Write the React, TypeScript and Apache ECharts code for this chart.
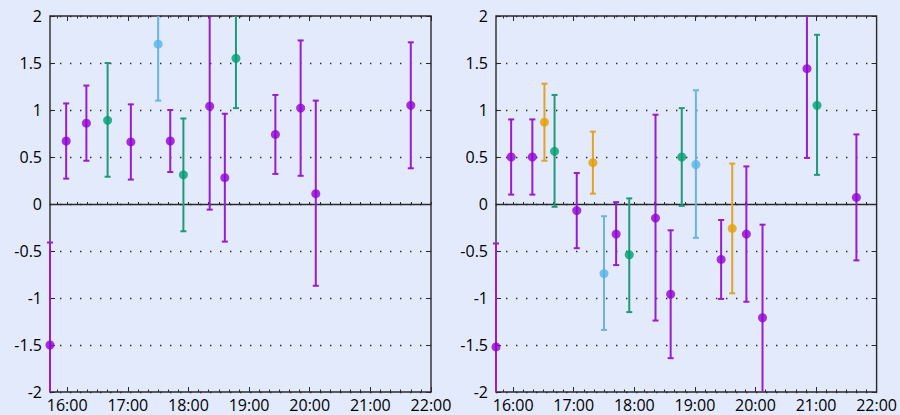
import React, { useEffect, useRef } from "react";
import * as echarts from "echarts";

// ---- data ----
const groupColors = ["#9400d3", "#009e73", "#56b4e9", "#e69f00"];
const barColors = ["#9a1ccc", "#1f9a78", "#6bb4e0", "#e2a426"];

const hourLabels = ["16:00", "17:00", "18:00", "19:00", "20:00", "21:00", "22:00"];
const xStart = "15:43";
const xEnd = "22:00";
const yTicks = [-2, -1.5, -1, -0.5, 0, 0.5, 1, 1.5, 2];

const leftTimes = ["15:43", "15:59", "16:19", "16:40", "17:03", "17:30", "17:42", "17:55", "18:21", "18:36", "18:47", "19:26", "19:51", "20:06", "21:40"];
const leftValues = [-1.5, 0.67, 0.86, 0.89, 0.66, 1.7, 0.67, 0.31, 1.04, 0.28, 1.55, 0.74, 1.02, 0.11, 1.05];
const leftLow = [-2.59, 0.27, 0.46, 0.29, 0.26, 1.1, 0.34, -0.29, -0.06, -0.4, 1.02, 0.32, 0.3, -0.87, 0.38];
const leftHigh = [-0.41, 1.07, 1.26, 1.5, 1.06, 2.3, 1.0, 0.91, 2.14, 0.96, 2.08, 1.16, 1.74, 1.1, 1.72];
const leftGroups = [0, 0, 0, 1, 0, 2, 0, 1, 0, 0, 1, 0, 0, 0, 0];

const rightTimes = ["15:43", "15:58", "16:19", "16:31", "16:41", "17:03", "17:19", "17:30", "17:42", "17:55", "18:21", "18:36", "18:47", "19:01", "19:26", "19:37", "19:51", "20:07", "20:51", "21:01", "21:40"];
const rightValues = [-1.52, 0.5, 0.5, 0.87, 0.56, -0.07, 0.44, -0.74, -0.32, -0.54, -0.15, -0.96, 0.5, 0.42, -0.59, -0.26, -0.32, -1.21, 1.44, 1.05, 0.07];
const rightLow = [-2.62, 0.1, 0.1, 0.46, -0.03, -0.47, 0.11, -1.34, -0.65, -1.15, -1.24, -1.64, -0.02, -0.36, -1.01, -0.95, -1.04, -2.2, 0.49, 0.31, -0.6];
const rightHigh = [-0.42, 0.9, 0.9, 1.28, 1.16, 0.33, 0.77, -0.13, 0.02, 0.06, 0.95, -0.28, 1.02, 1.21, -0.17, 0.43, 0.4, -0.22, 2.39, 1.8, 0.74];
const rightGroups = [0, 0, 0, 3, 1, 0, 3, 2, 0, 1, 0, 0, 1, 2, 0, 3, 0, 0, 0, 1, 0];

// ---- helpers ----
const toMin = (s: string) => {
  const [h, m] = s.split(":").map(Number);
  return h * 60 + m;
};
const fmt = (v: number) => {
  const h = Math.floor(v / 60);
  const m = Math.round(v - h * 60);
  return `${h}:${m < 10 ? "0" + m : m}`;
};

const BG = "#e2eafc";
const INK = "#2a2a2a";
const FONT = "'Open Sans', sans-serif";
const FONT_SIZE = 16;
const Y_MIN = -2;
const Y_MAX = 2;

function buildPanel(
  p: number,
  times: string[],
  values: number[],
  low: number[],
  high: number[],
  groups: number[]
) {
  const xMin = toMin(xStart);
  const xMax = toMin(xEnd);
  const hourVals = hourLabels.map(toMin);
  const minorVals: number[] = [];
  for (let v = Math.ceil(xMin / 10) * 10; v <= xMax; v += 10) minorVals.push(v);

  const baseX = {
    gridIndex: p,
    type: "value",
    min: xMin,
    max: xMax,
    splitLine: { show: false },
  };
  const xAxes = [
    {
      ...baseX,
      position: "bottom",
      axisLine: { show: false, onZero: false },
      axisTick: { show: true, inside: true, length: 5, customValues: hourVals, lineStyle: { color: INK, width: 1 } },
      axisLabel: { show: true, customValues: hourVals, formatter: (v: number) => fmt(v), color: "#000", fontSize: FONT_SIZE, fontFamily: FONT, margin: 5 },
    },
    {
      ...baseX,
      position: "bottom",
      axisLine: { show: false, onZero: false },
      axisTick: { show: true, inside: true, length: 2.5, customValues: minorVals, lineStyle: { color: INK, width: 1 } },
      axisLabel: { show: false },
    },
    {
      ...baseX,
      position: "top",
      axisLine: { show: false, onZero: false },
      axisTick: { show: true, inside: true, length: 5, customValues: hourVals, lineStyle: { color: INK, width: 1 } },
      axisLabel: { show: false },
    },
    {
      ...baseX,
      position: "top",
      axisLine: { show: false, onZero: false },
      axisTick: { show: true, inside: true, length: 2.5, customValues: minorVals, lineStyle: { color: INK, width: 1 } },
      axisLabel: { show: false },
    },
    {
      ...baseX,
      position: "top",
      axisLine: { show: true, onZero: true, lineStyle: { color: INK, width: 1.3 } },
      axisTick: { show: true, inside: false, length: 2, customValues: minorVals, lineStyle: { color: INK, width: 1 } },
      axisLabel: { show: false },
    },
  ];

  const baseY = {
    gridIndex: p,
    type: "value",
    min: Y_MIN,
    max: Y_MAX,
    interval: 0.5,
  };
  const yAxes = [
    {
      ...baseY,
      position: "left",
      axisLine: { show: false, onZero: false },
      axisTick: { show: true, inside: true, length: 5, lineStyle: { color: INK, width: 1 } },
      axisLabel: {
        show: true,
        color: "#000",
        fontSize: FONT_SIZE,
        fontFamily: FONT,
        margin: 8,
        customValues: yTicks,
        formatter: (v: number) => String(v),
      },
      splitLine: { show: true, lineStyle: { color: INK, width: 1.4, type: [1.4, 8.6] } },
    },
    {
      ...baseY,
      position: "right",
      axisLine: { show: false, onZero: false },
      axisTick: { show: true, inside: true, length: 5, lineStyle: { color: INK, width: 1 } },
      axisLabel: { show: false },
      splitLine: { show: false },
    },
  ];

  const barData = times.map((t, i) => [toMin(t), low[i], high[i], groups[i]]);
  const pointData = times.map((t, i) => ({
    value: [toMin(t), values[i]],
    itemStyle: { color: groupColors[groups[i]] },
  }));

  const series = [
    {
      type: "custom",
      xAxisIndex: p * 5,
      yAxisIndex: p * 2,
      clip: false,
      encode: { x: 0, y: [1, 2] },
      data: barData,
      renderItem: (_params: any, api: any) => {
        const x = api.value(0);
        const lo = api.value(1);
        const hi = api.value(2);
        const g = api.value(3);
        const loC = Math.max(lo, Y_MIN);
        const hiC = Math.min(hi, Y_MAX);
        const pLo = api.coord([x, loC]);
        const pHi = api.coord([x, hiC]);
        const style = { stroke: barColors[g], lineWidth: 2 };
        const cap = 3;
        const children: any[] = [
          { type: "line", shape: { x1: pLo[0], y1: pLo[1], x2: pHi[0], y2: pHi[1] }, style },
        ];
        if (lo >= Y_MIN)
          children.push({ type: "line", shape: { x1: pLo[0] - cap, y1: pLo[1], x2: pLo[0] + cap, y2: pLo[1] }, style });
        if (hi <= Y_MAX)
          children.push({ type: "line", shape: { x1: pHi[0] - cap, y1: pHi[1], x2: pHi[0] + cap, y2: pHi[1] }, style });
        return { type: "group", children };
      },
      z: 3,
    },
    {
      type: "scatter",
      xAxisIndex: p * 5,
      yAxisIndex: p * 2,
      clip: false,
      symbol: "circle",
      symbolSize: 9,
      data: pointData,
      z: 4,
    },
  ];

  return { xAxes, yAxes, series };
}

export default function App() {
  const ref = useRef<HTMLDivElement>(null);

  useEffect(() => {
    if (!ref.current) return;
    const chart = echarts.init(ref.current, undefined, { renderer: "svg" });
    const L = buildPanel(0, leftTimes, leftValues, leftLow, leftHigh, leftGroups);
    const R = buildPanel(1, rightTimes, rightValues, rightLow, rightHigh, rightGroups);
    chart.setOption({
      animation: false,
      backgroundColor: BG,
      grid: [
        { left: 50, top: 16, width: 381, height: 376, show: true, borderColor: INK, borderWidth: 1.4, backgroundColor: "transparent" },
        { left: 496, top: 16, width: 381, height: 376, show: true, borderColor: INK, borderWidth: 1.4, backgroundColor: "transparent" },
      ],
      xAxis: [...L.xAxes, ...R.xAxes],
      yAxis: [...L.yAxes, ...R.yAxes],
      series: [...L.series, ...R.series],
    });
    return () => chart.dispose();
  }, []);

  return (
    <div
      ref={ref}
      style={{ position: "absolute", left: 0, top: 0, width: 900, height: 415, background: BG }}
    />
  );
}
